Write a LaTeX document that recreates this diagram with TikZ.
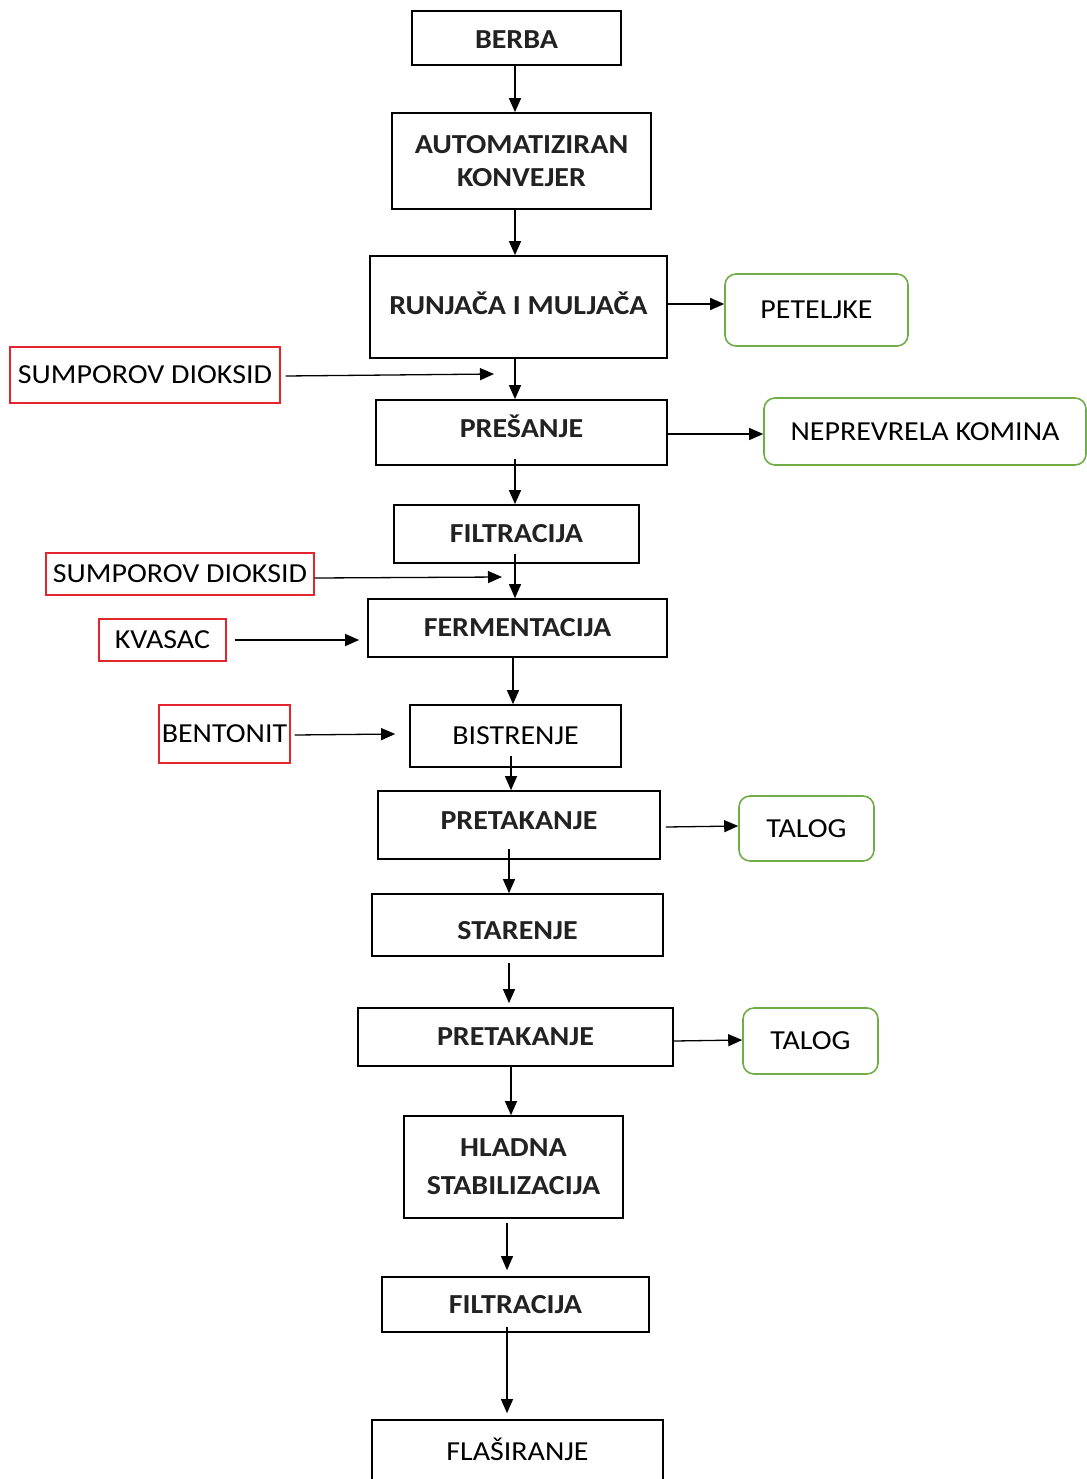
\documentclass[tikz,border=0pt]{standalone}
\usepackage{fontspec}
\setmainfont{Carlito}[FakeStretch=1.09]
\usetikzlibrary{arrows.meta}
\definecolor{redb}{HTML}{E3262E}
\definecolor{greenb}{HTML}{70AD47}
\definecolor{txt}{HTML}{222222}
\newcommand\fsz{\fontsize{27.5}{33}\selectfont}
\newcommand\fszw{\fontsize{27.5}{38}\selectfont}
\tikzset{
  mainbox/.style={draw=black, line width=1.7pt, inner sep=0pt, align=center, text=txt, font=\fsz\bfseries},
  plainbox/.style={draw=black, line width=1.7pt, inner sep=0pt, align=center, text=black, font=\fsz},
  inbox/.style={draw=redb, line width=1.4pt, inner sep=0pt, align=center, text=black, font=\fsz},
  outbox/.style={draw=greenb, line width=1.6pt, rounded corners=11pt, inner sep=0pt, align=center, text=black, font=\fsz},
  arr/.style={line width=1.3pt, -{Triangle[length=14pt,width=12pt]}},
  textlift/.style={text height=#1, text depth=0pt},
}
\begin{document}
\begin{tikzpicture}[x=1pt,y=-1pt]
\useasboundingbox (0,0) rectangle (1086,1479);
% main chain
\node[mainbox, textlift=21.7pt, minimum width=209pt, minimum height=54pt] (berba) at (516.5,38) {BERBA};
\node[mainbox, minimum width=259pt, minimum height=96pt] (konv) at (521.5,161) {AUTOMATIZIRAN\\KONVEJER};
\node[mainbox, textlift=15.7pt, minimum width=297pt, minimum height=102pt] (runj) at (518.5,307) {RUNJAČA I MULJAČA};
\node[mainbox, textlift=10.7pt, minimum width=291pt, minimum height=65pt] (pres) at (521.5,432.5) {PREŠANJE};
\node[mainbox, minimum width=245pt, minimum height=58pt] (filt1) at (516.5,534) {FILTRACIJA};
\node[mainbox, minimum width=299pt, minimum height=58pt] (ferm) at (517.5,628) {FERMENTACIJA};
\node[plainbox, minimum width=211pt, minimum height=62pt] (bist) at (515.5,736) {BISTRENJE};
\node[mainbox, textlift=9.7pt, minimum width=282pt, minimum height=68pt] (pret1) at (519,825) {PRETAKANJE};
\node[mainbox, textlift=29.7pt, minimum width=291pt, minimum height=62pt] (star) at (517.5,925) {STARENJE};
\node[mainbox, minimum width=315pt, minimum height=58pt] (pret2) at (515.5,1037) {PRETAKANJE};
\node[mainbox, font=\fszw\bfseries, minimum width=219pt, minimum height=102pt] (hlad) at (513.5,1167) {HLADNA\\STABILIZACIJA};
\node[mainbox, minimum width=267pt, minimum height=55pt] (filt2) at (515.5,1304.5) {FILTRACIJA};
\node[plainbox, textlift=11.7pt, minimum width=291pt, minimum height=70pt] (flas) at (517.5,1455) {FLAŠIRANJE};
% inputs
\node[inbox, minimum width=270pt, minimum height=56pt] (so1) at (145,375) {SUMPOROV DIOKSID};
\node[inbox, minimum width=268pt, minimum height=42pt] (so2) at (180,574) {SUMPOROV DIOKSID};
\node[inbox, minimum width=127pt, minimum height=42pt] (kvas) at (162.5,640) {KVASAC};
\node[inbox, minimum width=131pt, minimum height=58pt] (bent) at (224.5,734) {BENTONIT};
% outputs
\node[outbox, minimum width=183pt, minimum height=72pt] (pet) at (816.5,310) {PETELJKE};
\node[outbox, minimum width=322pt, minimum height=67pt] (nep) at (925,431.5) {NEPREVRELA KOMINA};
\node[outbox, minimum width=135pt, minimum height=65pt] (tal1) at (806.5,828.5) {TALOG};
\node[outbox, minimum width=135pt, minimum height=66pt] (tal2) at (810.5,1041) {TALOG};
% coordinates for input arrow ends
\coordinate (e1) at (494,374);
\coordinate (e2) at (502,577);
% main arrows
\draw[arr] (berba.south -| 515,0) -- (konv.north -| 515,0);
\draw[arr] (konv.south -| 515,0) -- (runj.north -| 515,0);
\draw[arr] (runj.south -| 515,0) -- (pres.north -| 515,0);
\draw[arr] ([yshift=7pt]pres.south -| 515,0) -- (filt1.north -| 515,0);
\draw[arr] ([yshift=10pt]filt1.south -| 515,0) -- (ferm.north -| 515,0);
\draw[arr] (ferm.south -| 513,0) -- (bist.north -| 513,0);
\draw[arr] ([yshift=12pt]bist.south -| 511,0) -- (pret1.north -| 511,0);
\draw[arr] ([yshift=11pt]pret1.south -| 509,0) -- (star.north -| 509,0);
\draw[arr] ([yshift=-6pt]star.south -| 509,0) -- ([yshift=4pt]pret2.north -| 509,0);
\draw[arr] (pret2.south -| 511,0) -- (hlad.north -| 511,0);
\draw[arr] ([yshift=-4pt]hlad.south -| 507,0) -- ([yshift=6pt]filt2.north -| 507,0);
\draw[arr] ([yshift=6pt]filt2.south -| 507,0) -- ([yshift=6pt]flas.north -| 507,0);
% input arrows
\draw[arr] ([xshift=5pt,yshift=-1pt]so1.east) -- (e1);
\draw[arr] ([yshift=-4pt]so2.east) -- (e2);
\draw[arr] ([xshift=8pt]kvas.east) -- ([xshift=-8pt]ferm.west |- kvas.east);
\draw[arr] ([xshift=4pt,yshift=-1pt]bent.east) -- ([xshift=-14pt]bist.west |- bent.east);
% output arrows
\draw[arr] (runj.east |- 0,304) -- (pet.west |- 0,304);
\draw[arr] (pres.east |- 0,434) -- (nep.west |- 0,434);
\draw[arr] ([xshift=5pt]pret1.east |- 0,827) -- (tal1.west |- 0,826);
\draw[arr] (pret2.east |- 0,1041) -- (tal2.west |- 0,1040);
\end{tikzpicture}
\end{document}
